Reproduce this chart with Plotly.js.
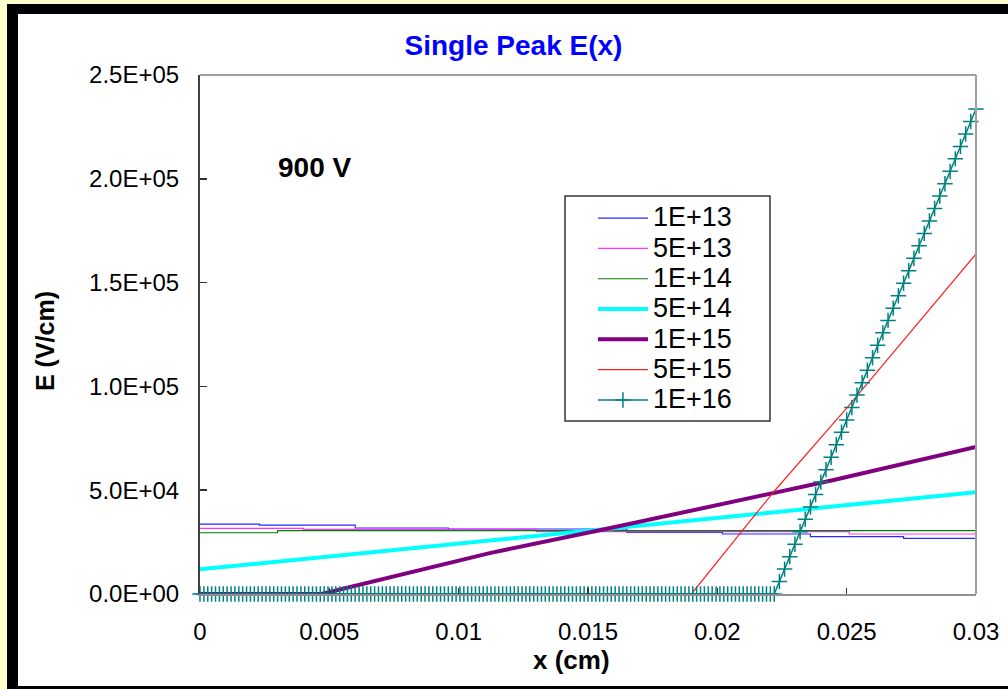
<!DOCTYPE html>
<html>
<head>
<meta charset="utf-8">
<script src="https://cdn.plot.ly/plotly-3.0.1.min.js"></script>
<style>
  html, body { margin:0; padding:0; background:#FFFFCC; width:1008px; height:689px; overflow:hidden; }
  #frame { position:absolute; left:7px; top:4px; width:1001px; height:685px; background:#000; }
  #chart { position:absolute; left:18px; top:14px; width:990px; height:672px; background:#fff; }
</style>
</head>
<body>
<div id="frame"></div>
<div id="chart"></div>
<script>
// ---- data ----
const seriesNames = ["1E+13", "5E+13", "1E+14", "5E+14", "1E+15", "5E+15", "1E+16"];

const x1e13 = [0, 0.0023, 0.0060, 0.0096, 0.0165, 0.0202, 0.0236, 0.0272, 0.030];
const y1e13 = [33700, 33200, 31800, 31300, 29700, 28900, 27600, 26800, 26800];

const x5e13 = [0, 0.0040, 0.0130, 0.0251, 0.030];
const y5e13 = [31600, 31100, 30000, 28900, 28900];

const x1e14 = [0, 0.0030, 0.030];
const y1e14 = [29500, 30500, 30500];

const x5e14 = [0, 0.005, 0.010, 0.015, 0.020, 0.025, 0.030];
const y5e14 = [11900, 18100, 24300, 30400, 36600, 42800, 49000];

const x1e15 = [0, 0.0047, 0.0112, 0.0155, 0.0245, 0.030];
const y1e15 = [0, 0, 19700, 30800, 54900, 70800];

const x5e15 = [0, 0.0190, 0.02095, 0.02154, 0.02224, 0.025, 0.030];
const y5e15 = [0, 0, 30300, 39500, 50100, 89500, 163800];

const x1e16 = [
  0,.00015,.0003,.00045,.0006,.00075,.0009,.00105,.0012,.00135,
  .0015,.00165,.0018,.00195,.0021,.00225,.0024,.00255,.0027,.00285,
  .003,.00315,.0033,.00345,.0036,.00375,.0039,.00405,.0042,.00435,
  .0045,.00465,.0048,.00495,.0051,.00525,.0054,.00555,.0057,.00585,
  .006,.00615,.0063,.00645,.0066,.00675,.0069,.00705,.0072,.00735,
  .0075,.00765,.0078,.00795,.0081,.00825,.0084,.00855,.0087,.00885,
  .009,.00915,.0093,.00945,.0096,.00975,.0099,.01005,.0102,.01035,
  .0105,.01065,.0108,.01095,.0111,.01125,.0114,.01155,.0117,.01185,
  .012,.01215,.0123,.01245,.0126,.01275,.0129,.01305,.0132,.01335,
  .0135,.01365,.0138,.01395,.0141,.01425,.0144,.01455,.0147,.01485,
  .015,.01515,.0153,.01545,.0156,.01575,.0159,.01605,.0162,.01635,
  .0165,.01665,.0168,.01695,.0171,.01725,.0174,.01755,.0177,.01785,
  .018,.01815,.0183,.01845,.0186,.01875,.0189,.01905,.0192,.01935,
  .0195,.01965,.0198,.01995,.0201,.02025,.0204,.02055,.0207,.02085,
  .021,.02115,.0213,.02145,.0216,.02175,.0219,.02205,.0222,
  .0224,.0226,.0228,.0230,.0232,.0234,.0236,.0238,.0240,.0242,
  .0244,.0246,.0248,.0250,.0252,.0254,.0256,.0258,.0260,.0262,
  .0264,.0266,.0268,.0270,.0272,.0274,.0276,.0278,.0280,.0282,
  .0284,.0286,.0288,.0290,.0292,.0294,.0296,.0298,.0300
];
const y1e16 = [
  0,0,0,0,0,0,0,0,0,0, 0,0,0,0,0,0,0,0,0,0,
  0,0,0,0,0,0,0,0,0,0, 0,0,0,0,0,0,0,0,0,0,
  0,0,0,0,0,0,0,0,0,0, 0,0,0,0,0,0,0,0,0,0,
  0,0,0,0,0,0,0,0,0,0, 0,0,0,0,0,0,0,0,0,0,
  0,0,0,0,0,0,0,0,0,0, 0,0,0,0,0,0,0,0,0,0,
  0,0,0,0,0,0,0,0,0,0, 0,0,0,0,0,0,0,0,0,0,
  0,0,0,0,0,0,0,0,0,0, 0,0,0,0,0,0,0,0,0,0,
  0,0,0,0,0,0,0,0,0,
  6000, 12000, 18000, 24000, 30000, 36000, 41900, 47900, 53900, 59900,
  65900, 71900, 77900, 83800, 89800, 95800, 101800, 107800, 113800, 119800,
  125800, 131800, 137700, 143700, 149700, 155700, 161700, 167700, 173700, 179700,
  185700, 191700, 197600, 203600, 209600, 215600, 221600, 227600, 233600
];

const yTickVals = [0, 50000, 100000, 150000, 200000, 250000];
const yTickText = ["0.0E+00", "5.0E+04", "1.0E+05", "1.5E+05", "2.0E+05", "2.5E+05"];
const xTickVals = [0, 0.005, 0.01, 0.015, 0.02, 0.025, 0.03];
const xTickText = ["0", "0.005", "0.01", "0.015", "0.02", "0.025", "0.03"];

// ---- traces ----
const FONT = "Liberation Sans, Arial, sans-serif";
const leg = s => '<span style="font-size:27px">' + s + '</span>';
const traces = [
  {x:x1e13, y:y1e13, name:leg(seriesNames[0]), mode:"lines", line:{color:"#2828FF", width:1.2, shape:"hv"}},
  {x:x5e13, y:y5e13, name:leg(seriesNames[1]), mode:"lines", line:{color:"#FF33FF", width:1.2, shape:"hv"}},
  {x:x1e14, y:y1e14, name:leg(seriesNames[2]), mode:"lines", line:{color:"#008000", width:1.2, shape:"hv"}},
  {x:x5e14, y:y5e14, name:leg(seriesNames[3]), mode:"lines", line:{color:"#00FFFF", width:4}, cliponaxis:false},
  {x:x1e15, y:y1e15, name:leg(seriesNames[4]), mode:"lines", line:{color:"#800080", width:4}, cliponaxis:false},
  {x:x5e15, y:y5e15, name:leg(seriesNames[5]), mode:"lines", line:{color:"#FF2020", width:1.2}},
  {x:x1e16, y:y1e16, name:leg(seriesNames[6]), mode:"lines+markers", line:{color:"#008080", width:1.5},
   marker:{symbol:"cross-thin", size:11, line:{color:"#008080", width:1.5}}, cliponaxis:false}
];

const layout = {
  width: 990, height: 672,
  margin: {l:182, r:32, t:61, b:92},
  paper_bgcolor: "#FFFFFF", plot_bgcolor: "#FFFFFF",
  font: {family: FONT, size: 24, color: "#000"},
  showlegend: true,
  title: {text: "<b>Single Peak E(x)</b>", font:{family:FONT, size:28, color:"#0000FF"},
          xref:"container", x:0.5005, xanchor:"center", yref:"container", y:0.954, yanchor:"middle"},
  xaxis: {range:[0, 0.03], tickvals:xTickVals, ticktext:xTickText, showgrid:false, zeroline:false,
          showline:true, linecolor:"#909090", linewidth:2, ticks:"inside", ticklen:6, tickcolor:"#333",
          tickwidth:1.5, tickfont:{family:FONT, size:24, color:"#000"}, ticklabelstandoff:15},
  yaxis: {range:[0, 250000], tickvals:yTickVals, ticktext:yTickText, showgrid:false, zeroline:false,
          showline:true, linecolor:"#404040", linewidth:2, ticks:"inside", ticklen:7, tickcolor:"#333",
          tickwidth:1.5, tickfont:{family:FONT, size:24, color:"#000"}, ticklabelstandoff:14},
  legend: {x:0.5064, y:0.763, xanchor:"left", yanchor:"top", bgcolor:"rgba(0,0,0,0)",
           borderwidth:0, font:{family:FONT, size:21, color:"#000"},
           itemwidth:50, tracegroupgap:0},
  shapes: [
    {type:"line", xref:"paper", yref:"paper", x0:0, x1:1, y0:1, y1:1, line:{color:"#A0A0A0", width:2}},
    {type:"line", xref:"paper", yref:"paper", x0:1, x1:1, y0:0, y1:1, line:{color:"#A0A0A0", width:2}},
    {type:"rect", xref:"paper", yref:"paper", x0:0.4704, x1:0.7345, y0:0.3333, y1:0.7669,
     fillcolor:"#FFFFFF", line:{color:"#333", width:1.5}, layer:"above"}
  ],
  annotations: [
    {text:"<b>900 V</b>", xref:"paper", yref:"paper", x:0.148, y:0.821, showarrow:false,
     xanchor:"center", yanchor:"middle", font:{family:FONT, size:28, color:"#000"}},
    {text:"<b>x (cm)</b>", xref:"paper", yref:"paper", x:0.479, y:-0.127, showarrow:false,
     xanchor:"center", yanchor:"middle", font:{family:FONT, size:26, color:"#000"}},
    {text:"<b>E (V/cm)</b>", xref:"paper", yref:"paper", x:-0.2, y:0.487, showarrow:false, textangle:-90,
     xanchor:"center", yanchor:"middle", font:{family:FONT, size:25, color:"#000"}}
  ]
};

Plotly.newPlot("chart", traces, layout, {displayModeBar:false, staticPlot:true});
</script>
</body>
</html>
